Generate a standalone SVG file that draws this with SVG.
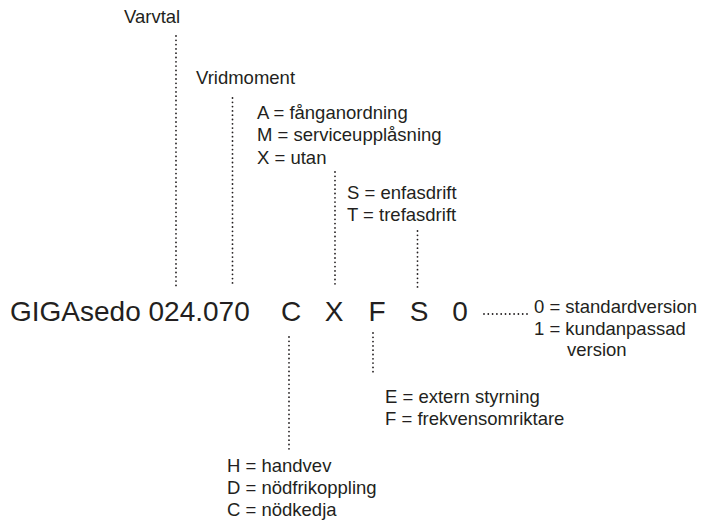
<svg xmlns="http://www.w3.org/2000/svg" width="707" height="524" viewBox="0 0 707 524">
<style>
text { font-family: "Liberation Sans", Arial, sans-serif; fill: #231f20; }
.lbl { font-size: 18.5px; }
.code { font-size: 28px; }
.mid { text-anchor: middle; }
.dot { stroke: #231f20; stroke-width: 1.8; stroke-linecap: round; stroke-dasharray: 0 4.3; fill: none; }
</style>
<rect width="707" height="524" fill="#ffffff"/>
<g id="connectors">
<line class="dot" x1="176" y1="36" x2="176" y2="287"/>
<line class="dot" x1="232.5" y1="98" x2="232.5" y2="287"/>
<line class="dot" x1="335" y1="172" x2="335" y2="287"/>
<line class="dot" x1="417.5" y1="231" x2="417.5" y2="289"/>
<line class="dot" x1="289" y1="337" x2="289" y2="449"/>
<line class="dot" x1="373" y1="333" x2="373" y2="373"/>
<line class="dot" x1="484" y1="314" x2="531" y2="314"/>
</g>
<g id="code">
<text class="code" x="10" y="321">GIGAsedo 024.070</text>
<text class="code mid" x="291" y="321">C</text>
<text class="code mid" x="334" y="321">X</text>
<text class="code mid" x="377" y="321">F</text>
<text class="code mid" x="419" y="321">S</text>
<text class="code mid" x="460" y="321">0</text>
</g>
<g id="varvtal"><text class="lbl" x="124" y="23">Varvtal</text></g>
<g id="vridmoment"><text class="lbl" x="196" y="84">Vridmoment</text></g>
<g id="opt-amx">
<text class="lbl" x="257" y="119">A = fånganordning</text>
<text class="lbl" x="257" y="141">M = serviceupplåsning</text>
<text class="lbl" x="257" y="164">X = utan</text>
</g>
<g id="opt-st">
<text class="lbl" x="347" y="199">S = enfasdrift</text>
<text class="lbl" x="347" y="221">T = trefasdrift</text>
</g>
<g id="opt-01">
<text class="lbl" x="534" y="313">0 = standardversion</text>
<text class="lbl" x="534" y="335">1 = kundanpassad</text>
<text class="lbl" x="567" y="356">version</text>
</g>
<g id="opt-ef">
<text class="lbl" x="385" y="403">E = extern styrning</text>
<text class="lbl" x="385" y="425">F = frekvensomriktare</text>
</g>
<g id="opt-hdc">
<text class="lbl" x="227" y="472">H = handvev</text>
<text class="lbl" x="227" y="494">D = nödfrikoppling</text>
<text class="lbl" x="227" y="516">C = nödkedja</text>
</g>
</svg>
